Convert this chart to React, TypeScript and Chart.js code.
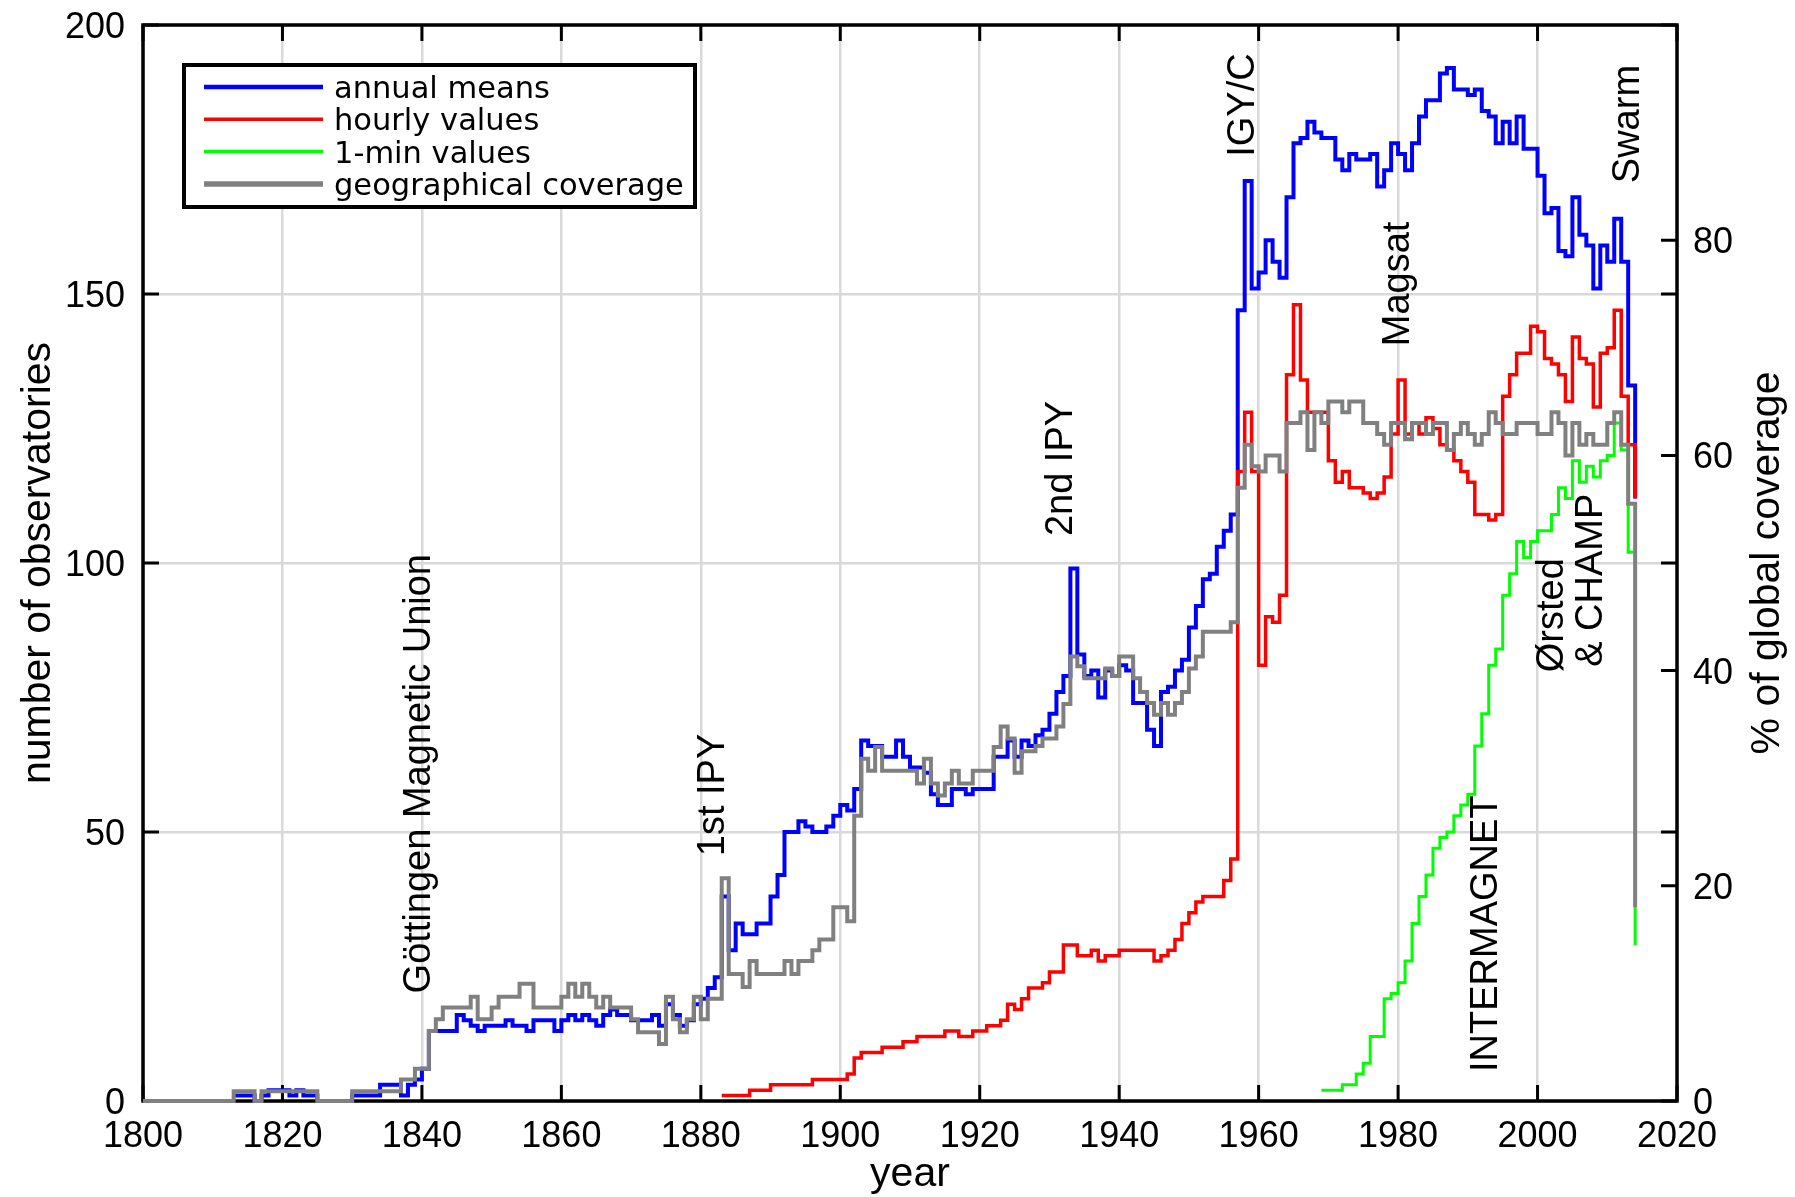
import React, { useEffect, useRef } from 'react';
import { Chart, registerables } from 'chart.js';

Chart.register(...registerables);

const FONT = '"Liberation Sans", Arial, Helvetica, sans-serif';
const LEGEND_FONT = '"DejaVu Sans", Verdana, sans-serif';

// ---- tick values ----
const yearTicks = [1800, 1820, 1840, 1860, 1880, 1900, 1920, 1940, 1960, 1980, 2000, 2020];
const countTicks = [0, 50, 100, 150, 200];
const coverageTicks = [0, 20, 40, 60, 80];

// ---- annual means (number of observatories), one value per year from annualStart ----
const annualStart = 1813;
const annualMeans = [
  1, 1, 1, 0, 1, 2, 2,
  2, 1, 2, 1, 1, 0, 0, 0, 0, 0,
  1, 1, 1, 1, 3, 3, 3, 1, 3, 4,
  6, 13, 13, 13, 13, 16, 15, 14, 13, 14,
  14, 14, 15, 14, 14, 13, 15, 15, 15, 13,
  15, 16, 15, 16, 15, 14, 16, 17, 16, 16,
  15, 15, 15, 16, 14, 18, 16, 14, 15, 18,
  19, 21, 23, 38, 28, 33, 31, 31, 33, 33,
  38, 42, 50, 50, 52, 51, 50, 50, 51, 53,
  55, 54, 58, 67, 66, 66, 64, 64, 67, 64,
  62, 62, 61, 57, 55, 55, 58, 58, 57, 58,
  58, 58, 64, 64, 67, 64, 67, 66, 68, 69,
  72, 76, 79, 99, 83, 79, 80, 75, 80, 79,
  81, 80, 74, 74, 69, 66, 76, 77, 80, 82,
  88, 92, 97, 98, 103, 106, 109, 147, 171, 151,
  154, 160, 156, 153, 168, 178, 179, 182, 180, 179,
  179, 175, 173, 176, 175, 175, 176, 170, 173, 178,
  176, 173, 178, 183, 186, 186, 191, 192, 188, 188,
  187, 188, 184, 183, 178, 182, 178, 183, 177, 177,
  172, 165, 166, 158, 157, 168, 161, 159, 151, 159,
  156, 164, 156, 133,
];
const annualEnd = 112;

// ---- hourly values ----
const hourlyStart = 1883;
const hourlyValues = [
  1, 1, 1, 1, 2, 2, 2,
  3, 3, 3, 3, 3, 3, 4, 4, 4, 4,
  4, 5, 8, 9, 9, 9, 10, 10, 10, 11,
  11, 12, 12, 12, 12, 13, 13, 12, 12, 13,
  13, 14, 14, 15, 18, 17, 19, 21, 21, 22,
  24, 24, 29, 29, 27, 27, 28, 26, 27, 27,
  28, 28, 28, 28, 28, 26, 27, 28, 30, 33,
  35, 37, 38, 38, 38, 41, 45, 117, 128, 117,
  81, 90, 89, 94, 135, 148, 134, 128, 128, 128,
  119, 115, 117, 114, 114, 113, 112, 113, 116, 124,
  134, 124, 126, 124, 127, 125, 122, 121, 119, 117,
  115, 109, 109, 108, 109, 131, 135, 139, 139, 144,
  143, 138, 137, 135, 130, 142, 138, 137, 129, 139,
  140, 147, 131, 122,
];
const hourlyEnd = 112;

// ---- 1-min values ----
const minuteStart = 1969;
const minuteValues = [
  2,
  2, 2, 3, 3, 5, 7, 12, 12, 19, 20,
  22, 26, 33, 38, 42, 47, 49, 50, 53, 55,
  57, 66, 72, 81, 84, 94, 98, 104, 101, 104,
  106, 106, 109, 114, 112, 119, 115, 118, 116, 119,
  120, 126, 121, 102,
];
const minuteEnd = 29;

// ---- geographical coverage (% of global coverage, right axis) ----
const coverageStart = 1800;
const coverageValues = [
  0, 0, 0, 0, 0, 0, 0, 0, 0, 0,
  0, 0, 0, 0.9, 0.9, 0.9, 0, 0.9, 0.9, 0.9,
  0.9, 0.9, 0.9, 0.9, 0.9, 0, 0, 0, 0, 0,
  0.9, 0.9, 0.9, 0.9, 0.9, 0.9, 0.9, 2, 2, 3,
  3, 6.5, 7.6, 8.7, 8.7, 8.7, 8.7, 9.7, 7.6, 7.6,
  8.7, 9.7, 9.7, 9.7, 10.9, 10.9, 8.7, 8.7, 8.7, 8.7,
  9.7, 10.9, 9.7, 10.9, 9.7, 8.7, 9.7, 8.7, 8.7, 8.7,
  7.6, 6.4, 6.4, 6.4, 5.3, 9.7, 7.6, 6.4, 7.6, 9.7,
  7.6, 9.5, 9.5, 20.7, 11.8, 11.8, 10.6, 13, 11.8, 11.8,
  11.8, 11.8, 13, 11.8, 13, 13, 14, 15, 15, 18,
  18, 16.7, 26.5, 31.8, 30.7, 32.9, 30.7, 30.7, 30.7, 30.7,
  30.7, 29.5, 31.8, 29.5, 28.4, 29.5, 30.7, 29.5, 29.5, 30.7,
  30.7, 30.7, 32.9, 34.8, 33.7, 30.5, 32.5, 32.5, 33, 33.7,
  33.7, 34.8, 36.9, 41.3, 40.4, 39.3, 39.3, 39.3, 40.2, 39.5,
  41.3, 41.3, 39.3, 38, 37, 35.9, 37, 35.9, 37, 38,
  40.2, 41.3, 43.6, 43.6, 43.6, 43.6, 44.5, 57, 61, 59,
  58.5, 60, 60, 58.5, 63, 63, 64, 60.5, 64, 63,
  65, 65, 64, 65, 65, 63, 63, 62, 61, 63,
  63, 61.5, 63, 63, 62, 63, 63, 60.5, 62, 63,
  62, 61, 62, 64, 63, 62, 62, 63, 63, 63,
  62, 62, 64, 63, 60, 63, 61, 62, 61, 61,
  63, 64, 61, 55.5,
];
const coverageEnd = 18;

// ---- series styling ----
const seriesLabels = ['annual means', 'hourly values', '1-min values', 'geographical coverage'];
const seriesColors = ['#0000ff', '#ff0000', '#00ff00', '#808080'];
const seriesWidths = [4, 3.5, 3, 4];
const legendWidths = [4.5, 3.5, 3.5, 5.5];

// ---- event annotations ----
const eventLabels = ['Göttingen Magnetic Union', '1st IPY', '2nd IPY', 'IGY/C', 'Magsat', 'INTERMAGNET', 'Ørsted', '& CHAMP', 'Swarm'];
const eventYears = [1839.7, 1881.8, 1931.8, 1957.8, 1980.0, 1992.7, 2002.1, 2007.8, 2013.1];
const eventCounts = [20, 45.5, 105, 175.5, 140.3, 5.4, 79.7, 80.7, 170.6];

function stepPoints(start: number, values: number[], endValue: number) {
  const pts = values.map((v, i) => ({ x: start + i, y: v }));
  pts.push({ x: start + values.length, y: endValue });
  return pts;
}

const framePlugin = {
  id: 'framePlugin',
  beforeDatasetsDraw(chart: any) {
    const { ctx, chartArea: a, scales } = chart;
    const xs = scales.x, ys = scales.y, y1 = scales.y1;
    ctx.save();
    ctx.strokeStyle = '#000';
    ctx.lineWidth = 3.5;
    ctx.strokeRect(a.left, a.top, a.right - a.left, a.bottom - a.top);
    const tl = 16;
    ctx.lineWidth = 3;
    ctx.beginPath();
    for (const v of yearTicks) {
      const px = xs.getPixelForValue(v);
      ctx.moveTo(px, a.bottom); ctx.lineTo(px, a.bottom - tl);
      ctx.moveTo(px, a.top); ctx.lineTo(px, a.top + tl);
    }
    for (const v of countTicks) {
      const py = ys.getPixelForValue(v);
      ctx.moveTo(a.left, py); ctx.lineTo(a.left + tl, py);
      ctx.moveTo(a.right, py); ctx.lineTo(a.right - tl, py);
    }
    for (const v of coverageTicks) {
      const py = y1.getPixelForValue(v);
      ctx.moveTo(a.right, py); ctx.lineTo(a.right - tl, py);
    }
    ctx.stroke();
    ctx.restore();
  },
  afterDatasetsDraw(chart: any) {
    const { ctx, chartArea: a, scales } = chart;
    const xs = scales.x, ys = scales.y, y1 = scales.y1;
    ctx.save();
    ctx.fillStyle = '#000';

    // tick labels
    ctx.font = `36px ${FONT}`;
    ctx.textBaseline = 'alphabetic';
    ctx.textAlign = 'center';
    for (const v of yearTicks) ctx.fillText(String(v), xs.getPixelForValue(v), a.bottom + 46);
    ctx.textAlign = 'right';
    for (const v of countTicks) ctx.fillText(String(v), a.left - 18, ys.getPixelForValue(v) + 13);
    ctx.textAlign = 'left';
    for (const v of coverageTicks) ctx.fillText(String(v), a.right + 16, y1.getPixelForValue(v) + 13);

    // axis titles
    ctx.font = `41px ${FONT}`;
    ctx.textAlign = 'center';
    ctx.fillText('year', (a.left + a.right) / 2, a.bottom + 85);
    const midY = (a.top + a.bottom) / 2;
    ctx.save();
    ctx.translate(50, midY);
    ctx.rotate(-Math.PI / 2);
    ctx.fillText('number of observatories', 0, 0);
    ctx.restore();
    ctx.save();
    ctx.translate(a.right + 102, midY);
    ctx.rotate(-Math.PI / 2);
    ctx.fillText('% of global coverage', 0, 0);
    ctx.restore();

    // event annotations
    ctx.font = `38px ${FONT}`;
    ctx.textAlign = 'left';
    ctx.textBaseline = 'middle';
    eventLabels.forEach((t, i) => {
      const px = xs.getPixelForValue(eventYears[i]);
      const py = ys.getPixelForValue(eventCounts[i]);
      ctx.save();
      ctx.translate(px, py);
      ctx.rotate(-Math.PI / 2);
      ctx.fillText(t, 0, 0);
      ctx.restore();
    });

    // legend
    const bx = a.left + 41, by = a.top + 40, bw = 511, bh = 142;
    ctx.fillStyle = '#fff';
    ctx.fillRect(bx, by, bw, bh);
    ctx.strokeStyle = '#000';
    ctx.lineWidth = 4;
    ctx.strokeRect(bx, by, bw, bh);
    ctx.font = `30.5px ${LEGEND_FONT}`;
    ctx.textAlign = 'left';
    ctx.textBaseline = 'alphabetic';
    seriesLabels.forEach((lab, i) => {
      const ry = by + 22 + i * 32.3;
      ctx.strokeStyle = seriesColors[i];
      ctx.lineWidth = legendWidths[i];
      ctx.beginPath();
      ctx.moveTo(bx + 20, ry);
      ctx.lineTo(bx + 139, ry);
      ctx.stroke();
      ctx.fillStyle = '#000';
      ctx.fillText(lab, bx + 150, ry + 11);
    });
    ctx.restore();
  },
};

export default function App() {
  const ref = useRef<HTMLCanvasElement | null>(null);
  useEffect(() => {
    if (!ref.current) return;
    const gridColor = '#d9d9d9';
    const chart = new Chart(ref.current, {
      type: 'line',
      data: {
        datasets: [
          {
            label: seriesLabels[3], data: stepPoints(coverageStart, coverageValues, coverageEnd),
            borderColor: seriesColors[3], borderWidth: seriesWidths[3], stepped: true, yAxisID: 'y1', order: 0, clip: 8,
          },
          {
            label: seriesLabels[2], data: stepPoints(minuteStart, minuteValues, minuteEnd),
            borderColor: seriesColors[2], borderWidth: seriesWidths[2], stepped: true, yAxisID: 'y', order: 1, clip: 8,
          },
          {
            label: seriesLabels[1], data: stepPoints(hourlyStart, hourlyValues, hourlyEnd),
            borderColor: seriesColors[1], borderWidth: seriesWidths[1], stepped: true, yAxisID: 'y', order: 2, clip: 8,
          },
          {
            label: seriesLabels[0], data: stepPoints(annualStart, annualMeans, annualEnd),
            borderColor: seriesColors[0], borderWidth: seriesWidths[0], stepped: true, yAxisID: 'y', order: 3, clip: 8,
          },
        ] as any,
      },
      options: {
        responsive: false,
        animation: false,
        devicePixelRatio: 1,
        layout: { padding: { left: 143, right: 118, top: 25, bottom: 96 } },
        elements: { point: { radius: 0 }, line: { tension: 0, borderJoinStyle: 'miter' } },
        plugins: { legend: { display: false }, tooltip: { enabled: false }, title: { display: false } },
        scales: {
          x: {
            type: 'linear', min: 1800, max: 2020,
            ticks: { display: false, stepSize: 20 },
            grid: { color: gridColor, lineWidth: 2.5, drawTicks: false },
            border: { display: false },
          },
          y: {
            type: 'linear', position: 'left', min: 0, max: 200,
            ticks: { display: false, stepSize: 50 },
            grid: { color: gridColor, lineWidth: 2.5, drawTicks: false },
            border: { display: false },
          },
          y1: {
            type: 'linear', position: 'right', min: 0, max: 100,
            ticks: { display: false, stepSize: 20 },
            grid: { display: false, drawTicks: false },
            border: { display: false },
          },
        },
      } as any,
      plugins: [framePlugin],
    });
    return () => chart.destroy();
  }, []);
  return (
    <div style={{ position: 'absolute', left: 0, top: 0, width: 1795, height: 1197, background: '#fff' }}>
      <canvas ref={ref} width={1795} height={1197} style={{ display: 'block', width: 1795, height: 1197 }} />
    </div>
  );
}
